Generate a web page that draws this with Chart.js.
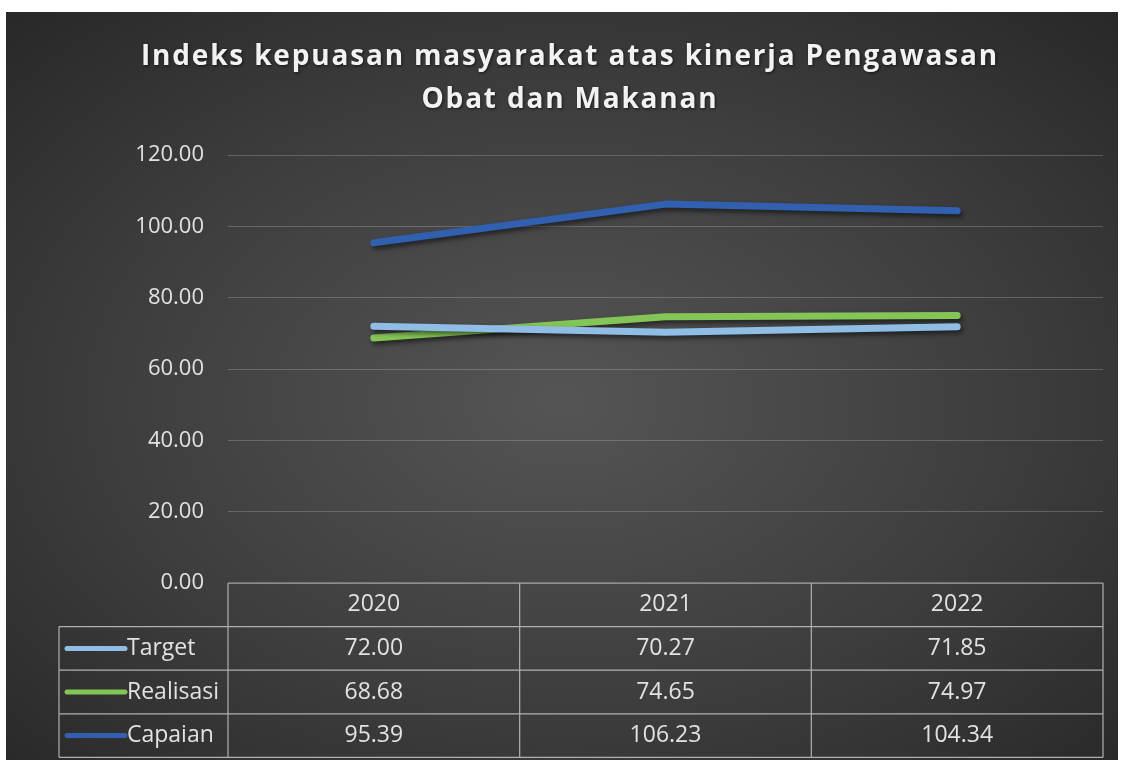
<!DOCTYPE html>
<html>
<head>
<meta charset="utf-8">
<script src="https://cdn.jsdelivr.net/npm/chart.js@4.4.1/dist/chart.umd.min.js"></script>
<style>
  body { margin: 0; background: #fff; }
  #panel {
    position: absolute; left: 6px; top: 12px; width: 1112px; height: 748px;
    background: radial-gradient(ellipse 75% 75% at 50% 52%, #555555 0%, #3d3d3d 55%, #262626 100%);
  }
</style>
</head>
<body>
<div id="panel"><canvas id="lineChart" width="1112" height="748"></canvas></div>
<script>
// data
const years = ['2020', '2021', '2022']
const target = [72.00, 70.27, 71.85]
const realisasi = [68.68, 74.65, 74.97]
const capaian = [95.39, 106.23, 104.34]
const seriesNames = ['Target', 'Realisasi', 'Capaian']
const seriesColors = ['#8fbde6', '#84c557', '#3160b0']
const titleLines = ['Indeks kepuasan masyarakat atas kinerja Pengawasan', 'Obat dan Makanan']

const textColor = '#e2e2e2'
const tableLine = '#b0b0b0'
const fontFamily = '"Open Sans", "Noto Sans", sans-serif'

// title with letter spacing, drawn by hand
const titlePlugin = {
  id: 'spacedTitle',
  afterDraw(chart) {
    const ctx = chart.ctx
    ctx.save()
    ctx.font = 'bold 28px ' + fontFamily
    ctx.fillStyle = '#f2f2f2'
    ctx.textBaseline = 'middle'
    ctx.shadowColor = 'rgba(0,0,0,0.6)'
    ctx.shadowBlur = 3
    ctx.shadowOffsetX = 1
    ctx.shadowOffsetY = 1
    // spacing chosen so line 1 is as wide as in the picture
    const plain = ctx.measureText(titleLines[0]).width
    const spacing = Math.max(0, (858 - plain) / titleLines[0].length)
    ctx.letterSpacing = spacing + 'px'
    const centers = [[564, 45], [564, 88]]
    titleLines.forEach((line, i) => {
      const w = ctx.measureText(line).width
      ctx.textAlign = 'left'
      ctx.fillText(line, centers[i][0] - w / 2, centers[i][1])
    })
    ctx.restore()
  }
}

// soft shadow under the lines
const shadowPlugin = {
  id: 'lineShadow',
  beforeDatasetsDraw(chart) {
    const ctx = chart.ctx
    ctx.save()
    ctx.shadowColor = 'rgba(0,0,0,0.55)'
    ctx.shadowBlur = 5
    ctx.shadowOffsetX = 2
    ctx.shadowOffsetY = 3
  },
  afterDatasetsDraw(chart) {
    chart.ctx.restore()
  }
}

// data table under the plot, columns follow the category scale
const tablePlugin = {
  id: 'dataTable',
  afterDraw(chart) {
    const ctx = chart.ctx
    const area = chart.chartArea
    const xs = chart.scales.x
    const colW = area.width / years.length
    const rowH = 43.6
    const top = area.bottom
    const legendLeft = 53
    const bottom = top + rowH * 4

    ctx.save()
    ctx.strokeStyle = tableLine
    ctx.lineWidth = 1.2
    ctx.beginPath()
    // header row top
    ctx.moveTo(area.left, top); ctx.lineTo(area.right, top)
    // rows
    for (let r = 1; r <= 4; r++) {
      ctx.moveTo(legendLeft, top + rowH * r); ctx.lineTo(area.right, top + rowH * r)
    }
    // verticals
    ctx.moveTo(legendLeft, top + rowH); ctx.lineTo(legendLeft, bottom)
    for (let c = 0; c <= years.length; c++) {
      const x = area.left + colW * c
      ctx.moveTo(x, top); ctx.lineTo(x, bottom)
    }
    ctx.stroke()

    ctx.font = '23px ' + fontFamily
    ctx.fillStyle = textColor
    ctx.textBaseline = 'middle'
    ctx.textAlign = 'center'
    years.forEach((y, i) => {
      ctx.fillText(y, xs.getPixelForValue(i), top + rowH / 2)
    })
    chart.data.datasets.forEach((ds, r) => {
      const cy = top + rowH * (r + 1.5)
      ctx.textAlign = 'center'
      ds.data.forEach((v, i) => {
        ctx.fillText(v.toFixed(2), xs.getPixelForValue(i), cy)
      })
      // legend key
      ctx.strokeStyle = ds.borderColor
      ctx.lineWidth = 5
      ctx.lineCap = 'round'
      ctx.beginPath()
      ctx.moveTo(61, cy); ctx.lineTo(119, cy)
      ctx.stroke()
      ctx.textAlign = 'left'
      ctx.fillText(ds.label, 121, cy)
    })
    ctx.restore()
  }
}

const seriesData = [target, realisasi, capaian]

new Chart(document.getElementById('lineChart'), {
  type: 'line',
  data: {
    labels: years,
    datasets: seriesNames.map((name, i) => ({
      label: name,
      data: seriesData[i],
      borderColor: seriesColors[i],
      backgroundColor: seriesColors[i],
      borderWidth: 7,
      borderCapStyle: 'round',
      borderJoinStyle: 'round',
      pointRadius: 0,
      tension: 0,
      fill: false
    }))
  },
  options: {
    responsive: false,
    animation: false,
    layout: { padding: { left: 6, right: 15, top: 143, bottom: 0 } },
    plugins: {
      legend: { display: false },
      title: { display: false },
      tooltip: { enabled: false }
    },
    scales: {
      x: {
        offset: true,
        grid: { display: false },
        border: { display: false },
        ticks: { display: false },
        afterFit(scale) { scale.height = 177 }
      },
      y: {
        min: 0,
        max: 120,
        grid: { color: 'rgba(255,255,255,0.2)', lineWidth: 1, drawTicks: false },
        border: { display: false },
        ticks: {
          stepSize: 20,
          padding: 24,
          color: textColor,
          font: { family: fontFamily, size: 22 },
          callback: v => v.toFixed(2)
        },
        afterFit(scale) { scale.width = 216 }
      }
    }
  },
  plugins: [shadowPlugin, tablePlugin, titlePlugin]
})
</script>
</body>
</html>
